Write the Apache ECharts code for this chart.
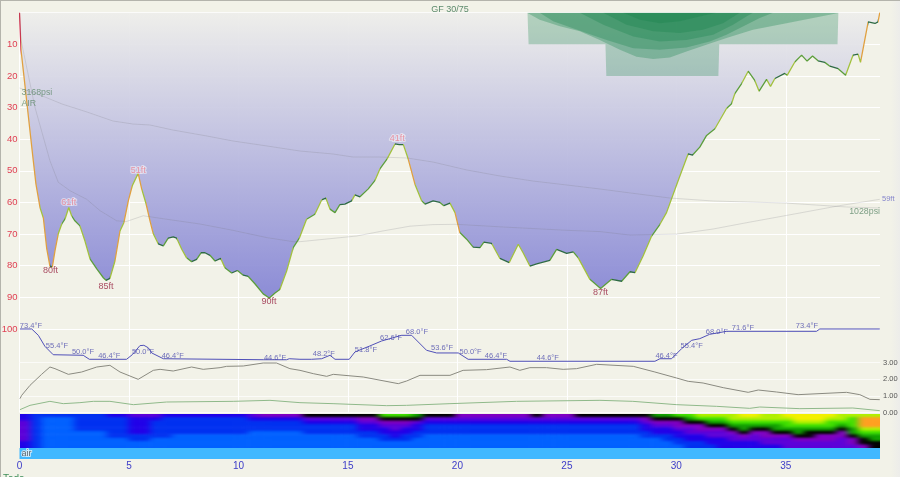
<!DOCTYPE html>
<html>
<head>
<meta charset="utf-8">
<title>Dive profile</title>
<script src="https://cdn.jsdelivr.net/npm/echarts@6/dist/echarts.min.js"></script>
<style>
    html, body {margin: 0; padding: 0; overflow: hidden; background: #f2f2e8;}
    #frame {
        position: absolute; left: 0; top: 0; width: 900px; height: 477px; box-sizing: border-box;
        background: linear-gradient(to right, #f2f2e8 0, #f2f2e8 890px, #ececea 900px);
        border-left: 1px solid #b4b4ac; border-top: 1px solid #b4b4ac;
    }
    #chart {position: absolute; left: -1px; top: -1px; width: 900px; height: 477px; filter: blur(0.3px);}
    #strip {position: absolute; left: 19.5px; top: 414px; width: 860.5px; height: 34px; overflow: hidden;}
    #heat {position: absolute; filter: url(#soft);}
</style>
</head>
<body>
<svg width="0" height="0" style="position:absolute">
    <filter id="soft" x="0" y="0" width="100%" height="100%" color-interpolation-filters="sRGB">
        <feGaussianBlur stdDeviation="3.5 1"/>
    </filter>
</svg>
<div id="frame"><div id="chart"></div></div>
<div id="strip"><div id="heat"></div></div>
<script>
// dive profile, minutes / feet
const depthTimes = [0, .07, .63, .75, .94, 1.09, 1.24, 1.39, 1.50, 1.62, 1.77, 1.93, 2.08, 2.25, 2.38, 2.53, 2.76, 2.99, 3.22, 3.53, 3.83, 3.95, 4.13, 4.36, 4.59, 4.77, 4.97, 5.15, 5.42, 5.58, 5.78, 5.96, 6.11, 6.34, 6.57, 6.79, 7.02, 7.18, 7.41, 7.63, 7.86, 8.09, 8.29, 8.47, 8.70, 8.93, 9.19, 9.38, 9.69, 9.95, 10.22, 10.45, 10.75, 11.13, 11.41, 11.67, 11.89, 12.20, 12.50, 12.78,
    13.11, 13.49, 13.80, 13.99, 14.18, 14.41, 14.63, 14.86, 15.17, 15.32, 15.55, 15.93, 16.23, 16.46, 16.79, 17.15, 17.34, 17.53, 17.75, 18.06, 18.37, 18.52, 18.89, 19.20, 19.38, 19.66, 19.89, 20.11, 20.42, 20.72, 21.03, 21.21, 21.56, 21.94, 22.37, 22.78, 23.0, 23.31, 23.62, 24.22, 24.53, 24.99, 25.29, 25.52, 26.05, 26.54, 27.04, 27.50, 27.88, 28.11, 28.48, 28.87, 29.25, 29.55, 30.08, 30.54, 30.74, 31.07, 31.38, 31.76, 32.29, 32.52, 32.67, 32.98, 33.28, 33.58, 33.78, 34.12, 34.30, 34.50, 34.95, 35.06, 35.41, 35.72, 35.97, 36.22, 36.47, 36.78, 37.01, 37.39, 37.73, 38.07, 38.30, 38.41, 38.76, 39.07, 39.21, 39.29];
const depthFeet = [0, 11.8, 46.8, 54.1, 61.7, 64.9, 74.4, 80.1, 80.4, 75.3, 69.9, 66.8, 65.2, 61.6, 64.2, 65.8, 67.4, 72.2, 77.8, 81, 83.8, 84.6, 84, 78.5, 69, 66.3, 59.5, 54.7, 50.8, 55.7, 60.4, 65.8, 69.9, 73.1, 73.7, 71.3, 70.9, 71.3, 74.8, 77.5, 78.7, 78, 75.9, 75.9, 76.7, 78.5, 77.7, 80.6, 82.3, 81.5, 83, 83.4, 85.7, 88.9, 90.2, 88.6, 87.5, 81.7, 74.3, 71.3,
    65.3, 63.7, 59.2, 58.6, 62.1, 63.2, 60.7, 60.5, 59.5, 57.6, 58.2, 55.7, 53.1, 49.4, 46.2, 41.5, 41.7, 41.7, 46.2, 54.2, 59.5, 60.5, 59.5, 60, 61, 60.2, 63.2, 69.5, 71.6, 74.1, 74.3, 72.5, 72.9, 77.7, 79, 73.2, 75.9, 80.1, 79.4, 78.3, 74.8, 76.1, 75.6, 77.5, 84.3, 87.2, 84.3, 84.9, 81.9, 82.2, 76.9, 70.6, 66.9, 63.2, 53.1, 44.6, 45, 42.5, 38.8, 36.7, 30.3, 28.8, 25.6, 22.4, 18.5, 21.4, 24.8, 21.1, 23.3, 20.8, 19.2, 19.8, 15.6, 13.4, 15.3, 13.7, 15.2, 15.7, 16.9, 17.7, 19.8, 13.4, 13.1, 15.7, 2.9, 3.4, 2.9, 0];

const maxLabelTimes = [1.42, 3.95, 11.4, 26.54];
const maxLabelFeet = [80, 85, 90, 87];
const minLabelTimes = [2.25, 5.42, 17.25];
const minLabelFeet = [61, 51, 41];

const meanTimes = [0, .07, .71, 1.39, 1.77, 2.31, 3.07, 3.68, 4.44, 4.89, 5.65, 6.72, 8.24, 9.75, 11.29, 12.5, 12.81, 15.4, 16.6, 17.83, 18.88, 19.96, 21.94, 25.0, 26.51, 27.88, 30.01, 31.67, 33.2, 34.95, 37.46, 39.29];
const meanFeet = [0, 8.7, 30, 46.8, 53.6, 56.3, 59, 62.6, 65.8, 66, 64.2, 65.3, 66.8, 68.8, 71.1, 72.4, 72.4, 70.6, 69, 67.5, 67, 66.9, 67.7, 68.8, 69.2, 70.3, 70, 68.4, 66.4, 64.2, 61, 59];

const pressureTimes = [0, 1.16, 1.94, 3.08, 4.27, 5.18, 5.96, 7.0, 8.56, 9.75, 11.3, 12.81, 14.32, 15.23, 16.46, 17.69, 18.88, 20.43, 21.94, 23.45, 25.0, 26.51, 27.56, 29.7, 31.67, 34.95, 37.78, 39.29];
const pressurePsi = [3168, 3008, 2883, 2740, 2579, 2526, 2508, 2419, 2312, 2223, 2134, 2044, 1991, 1937, 1937, 1920, 1848, 1706, 1599, 1509, 1438, 1367, 1313, 1206, 1153, 1117, 1046, 1028];

// ceilings: the stepped one, then the tissue ones from outer to inner
const stepCeilingTimes = [23.2, 23.25, 26.76, 26.8, 31.92, 31.96, 37.36, 37.4];
const stepCeilingFeet = [0, 10, 10, 20, 20, 10, 10, 0];
const tissueCeilingTimes = [
    [23.18, 23.76, 24.68, 25.59, 26.5, 27.42, 28.18, 28.94, 29.7, 30.46, 31.37, 32.29, 33.5, 35.03, 37.46],
    [23.76, 24.37, 25.89, 26.81, 28.03, 29.24, 30.46, 31.53, 32.29, 33.2, 33.81, 34.42],
    [25.59, 26.66, 28.03, 29.24, 30.46, 31.68, 32.59, 33.2, 33.5],
    [26.66, 27.72, 28.94, 30.16, 31.22, 32.13, 32.9],
    [27.57, 28.33, 29.24, 30.16, 31.07, 31.83]
];
const tissueCeilingFeet = [
    [0, 2.2, 4.3, 5.9, 8.6, 11.7, 13.9, 14.6, 14.2, 12.3, 10.1, 8, 5.4, 3.3, 0],
    [0, 2.7, 6.4, 8.6, 11.2, 11.7, 11, 9.1, 7, 3.8, 1.7, 0],
    [0, 3.8, 7.5, 9.1, 8.6, 7, 3.8, 1.2, 0],
    [0, 3.8, 5.9, 6.4, 5.4, 3.3, 0],
    [0, 2.2, 3.3, 2.7, 1.2, 0]
];

// water temperature, deg F
const tempTimes = [.02, .56, .86, 1.16, 1.54, 1.62, 2.91, 3.19, 4.89, 5.15, 5.50, 5.68, 5.88, 6.04, 6.57, 11.13, 12.2, 12.32, 12.81, 13.34, 13.42, 13.8, 14.18, 14.41, 15.06, 15.32, 16.0, 16.54, 17.45, 17.91, 18.59, 19.05, 20.04, 20.49, 22.25, 22.4, 29.02, 29.25, 29.78, 30.24, 30.7, 31.07, 31.52, 32.29, 36.4, 36.55, 39.29];
const tempF = [73.4, 73.4, 67.7, 57.8, 50.2, 49.7, 49.7, 46.1, 46.1, 50.2, 58.4, 58.7, 56.5, 51.8, 46.6, 45.7, 45.7, 46.6, 46.1, 46.1, 47.5, 46.6, 49.7, 46.1, 46.1, 52.7, 58.1, 62.6, 67.7, 67.7, 54.2, 51.8, 51.8, 46.1, 46.1, 44.3, 44.3, 46.6, 46.6, 55.7, 63.2, 64.7, 68.6, 71.3, 71.3, 73.4, 73.4];
const tempLabelTimes = [.52, 1.71, 2.9, 4.1, 5.64, 7.0, 11.67, 13.9, 15.82, 16.97, 18.15, 19.3, 20.6, 21.76, 24.13, 29.55, 30.7, 31.85, 33.04, 35.96];
const tempLabelF = [73.4, 55.4, 50.0, 46.4, 50.0, 46.4, 44.6, 48.2, 51.8, 62.6, 68.0, 53.6, 50.0, 46.4, 44.6, 46.4, 55.4, 68.0, 71.6, 73.4];

// partial pressure lines under the temperature
const gasGreyTimes = [.02, .10, .48, 1.01, 1.39, 1.62, 2.23, 2.84, 3.53, 4.13, 4.59, 5.42, 6.11, 6.42, 7.02, 7.86, 8.39, 9.16, 9.46, 10.22, 11.13, 11.74, 12.35, 12.81, 13.42, 14.03, 14.33, 15.70, 17.30, 17.68, 18.29, 19.66, 20.26, 21.33, 22.40, 22.85, 23.31, 24.07, 24.83, 25.44, 26.36, 28.03, 29.02, 30.01, 30.54, 31.22, 32.14, 33.28, 33.74, 34.58, 35.56, 37.77, 38.38, 38.84, 39.29];
const gasGreyValues = [.83, 1.03, 1.63, 2.29, 2.73, 2.63, 2.29, 2.43, 2.73, 2.83, 2.43, 1.99, 2.53, 2.59, 2.49, 2.73, 2.59, 2.69, 2.77, 2.79, 2.97, 2.97, 2.63, 2.53, 2.33, 2.17, 2.29, 2.13, 1.73, 1.89, 2.23, 2.23, 2.53, 2.57, 2.73, 2.53, 2.69, 2.69, 2.59, 2.63, 2.89, 2.77, 2.43, 2.07, 1.87, 1.77, 1.49, 1.21, 1.35, 1.23, 1.07, 1.21, 1.07, .79, .77];
const gasGreenTimes = [.02, .48, 1.39, 2.0, 2.76, 3.37, 4.13, 5.2, 6.72, 9.76, 11.44, 12.81, 14.32, 16.77, 17.68, 19.66, 22.7, 26.51, 28.01, 30.01, 31.84, 33.35, 33.81, 35.64, 38.06, 39.29];
const gasGreenValues = [.17, .43, .67, .53, .59, .67, .67, .47, .63, .67, .73, .59, .53, .41, .43, .53, .67, .73, .67, .47, .37, .25, .33, .23, .27, .11];

// tissue heat strip, one string per half minute, top row first, levels 0..b
const heatColumns = [
    '3344444433', '2222222222', '2111111111', '2111111111', '2111111111', '2222211111', '2222211111', '2222211111',
    '3222222111', '3222222111', '4333332211', '4333332211', '4322222111', '3222222111', '3222221111', '3222221111',
    '3222221111', '3222221111', '3222221111', '3222221111', '3222221111', '4322211111', '5322211111', '5322211111',
    '5322211111', '5322211111', '6432221111', '6432221111', '6432221111', '6432221111', '6432221111', '6543322111',
    '6543322111', '8654332211', '8654433211', '8654332211', '7643322111', '6432221111', '6432221111', '6432221111',
    '5432221111', '5432221111', '5432221111', '5432221111', '5432221111', '5432221111', '5432221111', '6432221111',
    '5432221111', '5432221111', '5432221111', '6432221111', '6432221111', '6432221111', '6432221111', '6432221111',
    '6432221111', '6543322111', '7654332111', '7654332211', '8655433221', '8765443322', '9865543322', '9876544332',
    '9876544333', '9987654433', 'a987765433', 'a987654433', '9987655443', '9987765443', 'a988765444', 'aa98776544',
    'aa98766544', 'aa98765544', 'a988765544', '9987655444', '9888776554', '9bbb987665', '9bbb987766'
];
const heatColors = ['#1080ff', '#0060ff', '#0030f0', '#2000e8', '#5c00d8', '#8000c0', '#000000', '#10a000', '#40e000', '#b0f000', '#f4f000', '#ffa020'];

const gasName = 'air';
const xTicks = 5;
const diveEnd = 39.3;

const zip = (xs, ys) => xs.map((x, i) => [x, ys[i]]);

// rate of depth change decides the colour of the profile line
const rateColor = r => r < 4 ? '#2f6b45' : r < 12 ? '#5c9e3c' : r < 25 ? '#a2c13d' : r < 100 ? '#e0a040' : '#d8304a';
const ratePieces = depthTimes.slice(1).map((t, i) => ({
    gte: depthTimes[i], lt: t,
    color: rateColor(Math.abs((depthFeet[i + 1] - depthFeet[i]) / (t - depthTimes[i])))
}));

const left = 19.5, width = 860.5, outerBoundsMode = 'none';
const grid = [
    {left, width, top: 12.7, height: 316.3, outerBoundsMode},
    {left, width, top: 320, height: 42.5, outerBoundsMode},
    {left, width, top: 362.5, height: 50, outerBoundsMode},
    {left, width, top: 448, height: 11, outerBoundsMode}
];

const timeAxis = (gridIndex, showLabel) => ({
    type: 'value', gridIndex, min: 0, max: diveEnd, interval: xTicks,
    axisLine: {show: false}, axisTick: {show: false},
    axisLabel: {show: showLabel, showMaxLabel: false, color: '#3c3cc8', fontSize: 10, margin: 2, fontFamily: 'Liberation Sans'},
    splitLine: {show: !showLabel, showMaxLine: false, lineStyle: {color: '#ffffff', width: 1}}
});

const hiddenY = (gridIndex, min, max, inverse) => ({type: 'value', gridIndex, min, max, inverse, show: false, splitLine: {show: false}});

const textFont = {fontFamily: 'Liberation Sans'};

const ceiling = (xs, ys, alpha) => ({
    type: 'line', data: zip(xs, ys), symbol: 'none', silent: true, z: 4,
    lineStyle: {width: 0}, areaStyle: {origin: 'start', color: 'rgb(20,128,72)', opacity: alpha}
});

const thinLine = (data, xAxisIndex, yAxisIndex, color, z) => ({
    type: 'line', data, xAxisIndex, yAxisIndex, symbol: 'none', silent: true, z,
    lineStyle: {color, width: 1}
});

const labels = (data, xAxisIndex, yAxisIndex, label) => ({
    type: 'scatter', data, xAxisIndex, yAxisIndex, symbolSize: 0, silent: true, z: 8,
    label: {show: true, ...textFont, ...label}
});

const myChart = echarts.init(document.getElementById('chart'));

myChart.setOption({
    animation: false,
    backgroundColor: 'transparent',
    title: {
        text: 'GF 30/75', left: 'center', top: 0,
        textStyle: {color: '#5c8a6c', fontSize: 9, fontWeight: 'normal', ...textFont}
    },
    graphic: [{type: 'text', left: 3, top: 474, style: {text: 'Tada', fill: '#3f8f5a', fontSize: 10, ...textFont}}],
    grid,
    xAxis: [timeAxis(0, false), timeAxis(1, false), timeAxis(2, false), timeAxis(3, true)],
    yAxis: [
        {
            type: 'value', gridIndex: 0, min: 0, max: 100, interval: 10, inverse: true,
            axisLine: {show: false}, axisTick: {show: false},
            axisLabel: {color: '#e04054', fontSize: 9.5, margin: 2, showMinLabel: false, ...textFont},
            splitLine: {lineStyle: {color: '#ffffff', width: 1}}
        },
        hiddenY(0, -1130, 4511, false),
        hiddenY(1, 43.2, 81.5, false),
        {
            type: 'value', gridIndex: 2, min: 0, max: 3, interval: 1, position: 'right',
            axisLine: {show: false}, axisTick: {show: false},
            axisLabel: {color: '#555555', fontSize: 7.5, margin: 3, formatter: v => v.toFixed(2), ...textFont},
            splitLine: {lineStyle: {color: '#ffffff', width: 1, opacity: 0.7}}
        },
        hiddenY(3, 0, 1, false)
    ],
    visualMap: [{show: false, type: 'piecewise', seriesIndex: 0, dimension: 0, pieces: ratePieces}],
    series: [
        {
            type: 'line', data: zip(depthTimes, depthFeet), symbol: 'none', silent: true, z: 3,
            lineStyle: {width: 1.3},
            areaStyle: {
                origin: 'start', opacity: 0.93,
                color: new echarts.graphic.LinearGradient(0, 0, 0, 1, [
                    {offset: 0, color: '#eeeeea'},
                    {offset: 1, color: '#8484d4'}
                ])
            }
        },
        {
            type: 'line', data: [[0, 1], [diveEnd, 1]], xAxisIndex: 3, yAxisIndex: 4, symbol: 'none', silent: true, z: 5,
            lineStyle: {width: 0}, areaStyle: {origin: 'start', color: '#40b8ff', opacity: 1}
        },
        ceiling(stepCeilingTimes, stepCeilingFeet, 0.27),
        ...tissueCeilingTimes.map((xs, i) => ceiling(xs, tissueCeilingFeet[i], 0.3)),
        thinLine(zip(meanTimes, meanFeet), 0, 0, 'rgba(110,110,120,0.2)', 4),
        thinLine(zip(pressureTimes, pressurePsi), 0, 1, 'rgba(110,110,120,0.2)', 4),
        thinLine(zip(tempTimes, tempF), 1, 2, '#5050b8', 4),
        thinLine(zip(gasGreyTimes, gasGreyValues), 2, 3, '#8a8a80', 4),
        thinLine(zip(gasGreenTimes, gasGreenValues), 2, 3, '#8fb98a', 4),
        labels(zip(maxLabelTimes, maxLabelFeet), 0, 0, {
            position: 'bottom', distance: 0, color: '#96213f', fontSize: 9, formatter: p => p.value[1] + 'ft'
        }),
        labels(zip(minLabelTimes, minLabelFeet), 0, 0, {
            position: 'top', distance: -1, color: '#e87f90', fontSize: 9, textBorderColor: 'rgba(255,255,255,0.6)', textBorderWidth: 2,
            formatter: p => p.value[1] + 'ft'
        }),
        labels(zip(tempLabelTimes, tempLabelF), 1, 2, {
            position: 'top', distance: -1, color: '#4c4cac', fontSize: 7.5, formatter: p => p.value[1].toFixed(1) + '°F'
        }),
        labels([[0, pressurePsi[0]]], 0, 1, {
            position: 'right', distance: 2, offset: [0, 10], color: '#5f8a6c', fontSize: 8.8, lineHeight: 11, align: 'left',
            formatter: pressurePsi[0] + 'psi\nAIR'
        }),
        labels([[diveEnd, pressurePsi[pressurePsi.length - 1]]], 0, 1, {
            position: 'left', distance: 0, offset: [0, 4], color: '#5f8a6c', fontSize: 8.8,
            formatter: pressurePsi[pressurePsi.length - 1] + 'psi'
        }),
        labels([[diveEnd, meanFeet[meanFeet.length - 1]]], 0, 0, {
            position: 'right', distance: 2, color: '#6a6ac4', fontSize: 7.5,
            formatter: meanFeet[meanFeet.length - 1] + 'ft'
        }),
        labels([[0, 0.5]], 3, 4, {
            position: 'right', distance: 2, color: '#33404a', fontSize: 9, textBorderColor: '#ffffff', textBorderWidth: 1.5,
            formatter: gasName
        })
    ]
});

// The strip is its own small chart so it can be softened without touching the text.
// Its edge cells repeat outside the clipped box, which keeps the blur from fading at the border.
const padCols = 2, padRows = 2;
const cellW = width / heatColumns.length, cellH = 34 / heatColumns[0].length;
const heatX = [], heatY = [], heatData = [];
for (let c = -padCols; c < heatColumns.length + padCols; c++) heatX.push(c);
for (let r = -padRows; r < heatColumns[0].length + padRows; r++) heatY.push(r);
heatX.forEach((c, xi) => {
    const col = heatColumns[Math.max(0, Math.min(heatColumns.length - 1, c))];
    heatY.forEach((r, yi) => {
        heatData.push([xi, yi, parseInt(col[Math.max(0, Math.min(col.length - 1, r))], 16)]);
    });
});

const heatDom = document.getElementById('heat');
heatDom.style.left = -padCols * cellW + 'px';
heatDom.style.top = -padRows * cellH + 'px';
heatDom.style.width = heatX.length * cellW + 'px';
heatDom.style.height = heatY.length * cellH + 'px';

const heatChart = echarts.init(heatDom);
heatChart.setOption({
    animation: false,
    grid: {left: 0, right: 0, top: 0, bottom: 0, outerBoundsMode},
    xAxis: {type: 'category', show: false, data: heatX},
    yAxis: {type: 'category', show: false, inverse: true, data: heatY},
    visualMap: {show: false, type: 'continuous', dimension: 2, min: 0, max: 11, inRange: {color: heatColors}},
    series: [{type: 'heatmap', data: heatData, silent: true, progressive: 0}]
});
</script>
</body>
</html>
